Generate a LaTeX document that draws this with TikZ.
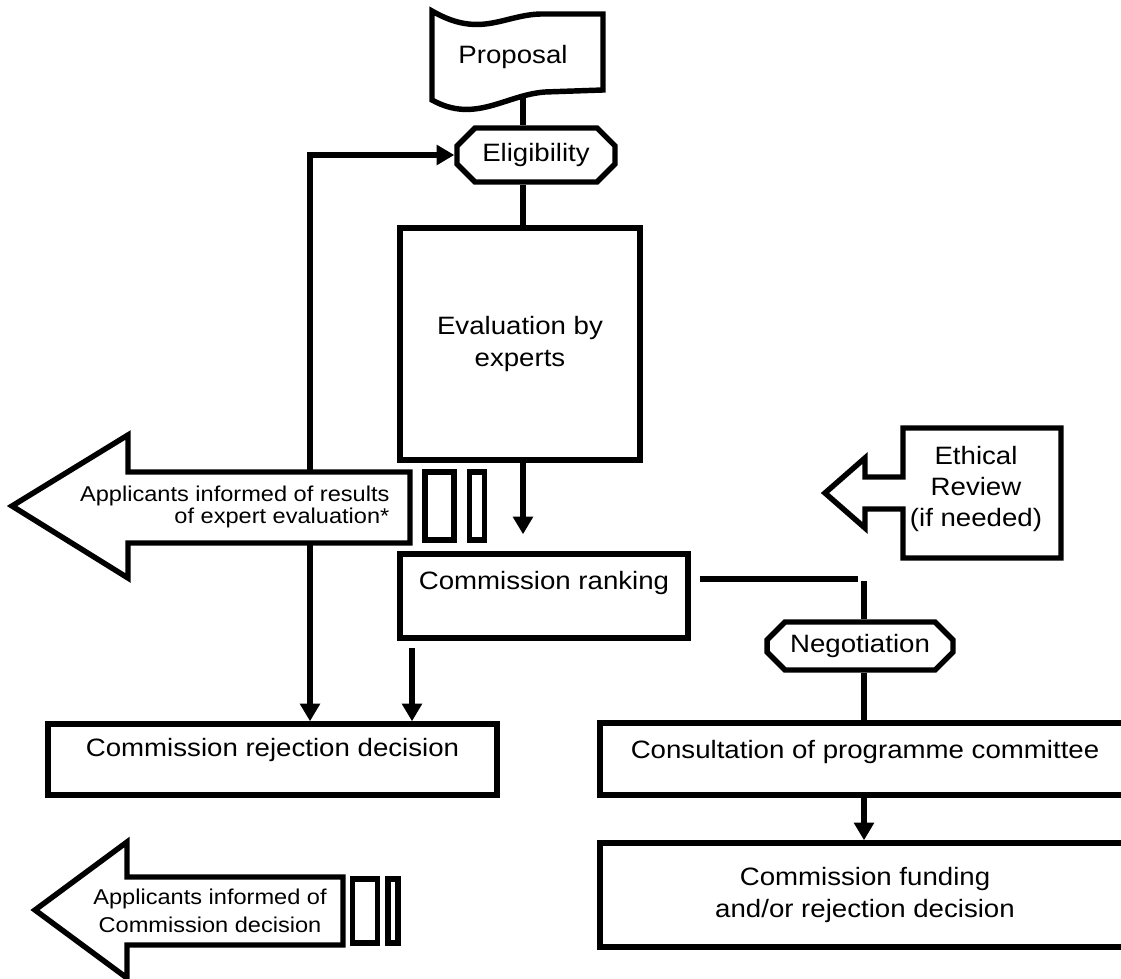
\documentclass[tikz,border=0pt]{standalone}
\usepackage{fontspec}
\setmainfont{Liberation Sans}[FakeStretch=1.1]
\usetikzlibrary{arrows.meta,shapes.misc,positioning}

\newcommand{\bigtxt}{\fontsize{14.3pt}{17.8pt}\selectfont}
\newcommand{\smalltxt}{\fontsize{12.2pt}{15.9pt}\selectfont}

\begin{document}
\begin{tikzpicture}[x=0.02cm, y=-0.02cm, line width=3.1pt, font=\bigtxt,
  box/.style={rectangle, draw=black, fill=white, inner sep=0pt},
  oct/.style={chamfered rectangle, chamfered rectangle xsep=0.3cm, draw=black, fill=white, inner sep=0pt},
  bar/.style={rectangle, draw=black, fill=white, inner sep=0pt},
  arr/.style={-{Triangle[length=10pt,width=11pt]}},
  pointer/.style={draw=black, fill=white}]
  \useasboundingbox (0,0) rectangle (1121,979);
  \clip (0,0) rectangle (1121,979);

  % proposal flag
  \draw[pointer] (432,11) .. controls (482,40) and (505,13) .. (545,14) -- (603,14) -- (603,90)
    -- (545,92) .. controls (505,95) and (475,124) .. (432,100) -- cycle;
  \node (prop) at (513,57) {Proposal};
  \coordinate (propbot) at (523,96);

  \node[oct, minimum width=3.16cm, minimum height=1.08cm] (elig) at (536,155) {Eligibility};
  \node[box, minimum width=4.8cm, minimum height=4.64cm, align=center] (eval) at (520,344) {Evaluation by\\experts};
  \node[box, minimum width=5.76cm, minimum height=1.68cm,
    label={[name=rankT, yshift=0.26cm]center:Commission ranking}] (rank) at (544,596) {};
  \node[box, minimum width=8.98cm, minimum height=1.42cm,
    label={[name=rejT, yshift=0.2cm]center:Commission rejection decision}] (rej) at (272.5,759.5) {};
  \node[oct, minimum width=3.72cm, minimum height=0.96cm] (neg) at (860,646) {Negotiation};
  \node[box, minimum width=10.6cm, minimum height=1.44cm,
    label={[name=consT, yshift=0.14cm]center:Consultation of programme committee}] (cons) at (865,759) {};
  \node[box, minimum width=10.6cm, minimum height=2.08cm, align=center] (fund) at (865,895) {Commission funding\\and/or rejection decision};

  \draw (propbot) -- (elig.north -| propbot);
  \draw (elig.south -| propbot) -- (eval.north -| propbot);
  \draw[arr, shorten >=0.34cm] (eval.south -| propbot) -- (rank.north -| propbot);

  % ranking to negotiation
  \coordinate (negtop) at (864,581);
  \draw ([shift={(9,-17)}]rank.east) -- ++(158,0);
  \draw (negtop) -- (neg.north -| negtop);
  \draw (neg.south -| negtop) -- (cons.north -| negtop);
  \draw[arr] (cons.south -| negtop) -- (fund.north -| negtop);

  \coordinate (rkdown) at (412,648);
  \draw[arr] (rkdown) -- (rej.north -| rkdown);

  % applicants informed of results
  \coordinate (res-up) at (310,472);
  \coordinate (res-down) at (310,543);
  \draw[arr] (res-up) |- (elig.west);
  \draw[arr] (res-down) -- (rej.north -| res-down);
  \draw[pointer] (410,472) -- (128,472) -- (128,435) -- (12,506) -- (128,578) -- (128,543) -- (410,543) -- cycle;
  \node[font=\fontsize{12.2pt}{12.4pt}\selectfont, align=right, anchor=east] (resT) at (398,507)
    {Applicants informed of results\\of expert evaluation*};
  \node[bar, minimum width=0.58cm, minimum height=1.36cm] (bar1) at (439.5,506) {};
  \node[bar, minimum width=0.3cm, minimum height=1.36cm] (bar2) at (477,506) {};

  % applicants informed of decision
  \draw[pointer] (343,877) -- (127,877) -- (127,842) -- (35,910) -- (127,978) -- (127,945) -- (343,945) -- cycle;
  \node[font=\smalltxt, align=center] (decT) at (210,911) {Applicants informed of\\Commission decision};
  \node[bar, minimum width=0.5cm, minimum height=1.28cm] (bar3) at (365,911) {};
  \node[bar, minimum width=0.2cm, minimum height=1.28cm] (bar4) at (393,911) {};

  % ethical review
  \draw[pointer] (903,477) -- (903,428) -- (1061,428) -- (1061,558) -- (903,558) -- (903,509)
    -- (865,509) -- (865,528) -- (825,493) -- (865,458) -- (865,477) -- cycle;
  \node[align=center] (eth) at (976,489) {Ethical\\Review\\(if needed)};
\end{tikzpicture}
\end{document}
